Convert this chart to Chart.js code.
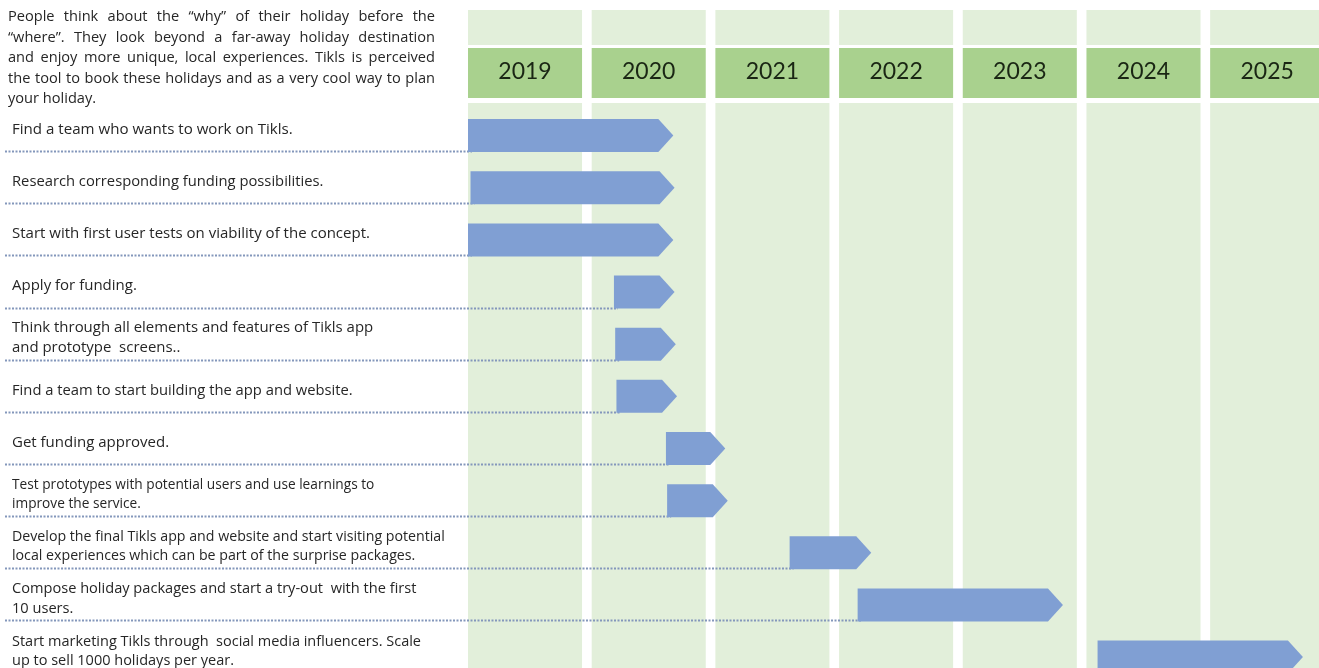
<!doctype html>
<html lang="en">
<head>
<meta charset="utf-8">
<title>Tikls roadmap</title>
<style>
  html, body { margin: 0; padding: 0; overflow: hidden; background: #fff; }
  #wrap { position: relative; width: 1319px; height: 700px; }
  #intro { position: absolute; left: 8px; top: 5px; width: 427px; font: 14.6px "Open Sans", sans-serif; line-height: 20.5px; color: #262626; }
  #intro .j { text-align: justify; text-align-last: justify; white-space: nowrap; }
</style>
</head>
<body>
<div id="wrap">
  <canvas id="chart"></canvas>
  <div id="intro">
    <div class="j">People think about the “why” of their holiday before the</div>
    <div class="j">“where”. They look beyond a far-away holiday destination</div>
    <div class="j">and enjoy more unique, local experiences. Tikls is perceived</div>
    <div class="j">the tool to book these holidays and as a very cool way to plan</div>
    <div>your holiday.</div>
  </div>
</div>

<script src="https://cdn.jsdelivr.net/npm/chart.js"></script>
<script>
  const years = ['2019', '2020', '2021', '2022', '2023', '2024', '2025']

  const tasks = [
    'Find a team who wants to work on Tikls.',
    'Research corresponding funding possibilities.',
    'Start with first user tests on viability of the concept.',
    'Apply for funding.',
    ['Think through all elements and features of Tikls app', 'and prototype  screens..'],
    'Find a team to start building the app and website.',
    'Get funding approved.',
    ['Test prototypes with potential users and use learnings to', 'improve the service.'],
    ['Develop the final Tikls app and website and start visiting potential', 'local experiences which can be part of the surprise packages.'],
    ['Compose holiday packages and start a try-out  with the first', '10 users.'],
    ['Start marketing Tikls through  social media influencers. Scale', 'up to sell 1000 holidays per year.'],
  ]

  const starts = [2019.0, 2019.02, 2019.0, 2020.18, 2020.19, 2020.2, 2020.6, 2020.61, 2021.6, 2022.15, 2024.09]
  const ends = [2020.66, 2020.67, 2020.66, 2020.67, 2020.68, 2020.69, 2021.08, 2021.1, 2022.26, 2023.81, 2025.75]

  const barColor = '#809fd3'
  const tip = 15
  // the labels in the source are not all set in the same size
  const labelSize = [15.1, 14.75, 15.0, 15.0, 14.95, 14.75, 15.0, 13.7, 14.2, 14.6, 14.5]

  // columns, dotted row lines and arrow-shaped bars
  const roadmap = {
    id: 'roadmap',
    beforeDraw(chart) {
      const { ctx, scales: { x } } = chart
      ctx.save()
      years.forEach((yr) => {
        const left = x.getPixelForValue(+yr)
        const w = (x.getPixelForValue(+yr + 1) - left) * 0.922
        ctx.fillStyle = '#e2efda'
        ctx.fillRect(left, 10, w, 35)
        ctx.fillRect(left, 103, w, chart.height - 103)
        ctx.fillStyle = '#a9d18e'
        ctx.fillRect(left, 48, w, 50)
      })
      ctx.restore()
    },
    beforeDatasetsDraw(chart) {
      const ctx = chart.ctx
      ctx.save()
      ctx.strokeStyle = '#8497bb'
      ctx.lineWidth = 2
      ctx.setLineDash([2, 1.5])
      chart.getDatasetMeta(0).data.forEach((el) => {
        const { y, base, height } = el.getProps(['y', 'base', 'height'], true)
        const ly = Math.round(y + height / 2) - 0.5
        ctx.beginPath()
        ctx.moveTo(5, ly)
        ctx.lineTo(base + 4, ly)
        ctx.stroke()
      })
      ctx.restore()
    },
    afterDatasetsDraw(chart) {
      const ctx = chart.ctx
      ctx.save()
      ctx.fillStyle = barColor
      chart.getDatasetMeta(0).data.forEach((el) => {
        const { x, y, base, height } = el.getProps(['x', 'y', 'base', 'height'], true)
        const h = height / 2
        ctx.beginPath()
        ctx.moveTo(base, y - h)
        ctx.lineTo(x - tip, y - h)
        ctx.lineTo(x, y)
        ctx.lineTo(x - tip, y + h)
        ctx.lineTo(base, y + h)
        ctx.closePath()
        ctx.fill()
      })
      ctx.restore()
    },
  }

  new Chart(document.getElementById('chart'), {
    type: 'bar',
    data: {
      labels: tasks,
      datasets: [{
        data: starts.map((s, i) => [s, ends[i]]),
        backgroundColor: 'rgba(0,0,0,0)',
        barThickness: 33,
      }],
    },
    options: {
      indexAxis: 'y',
      responsive: true,
      maintainAspectRatio: false,
      animation: false,
      layout: { padding: { left: 12, right: 0, top: 0, bottom: 16.85 } },
      plugins: { legend: { display: false }, tooltip: { enabled: false } },
      scales: {
        x: {
          type: 'linear',
          position: 'top',
          min: 2019,
          max: 2025.88,
          bounds: 'data',
          grid: { display: false, drawTicks: false },
          border: { display: false },
          afterBuildTicks: (scale) => {
            scale.ticks = years.map((yr) => ({ value: +yr + 0.461 }))
          },
          afterFit: (scale) => { scale.height = 109.5 },
          ticks: {
            autoSkip: false,
            maxRotation: 0,
            padding: 24.5,
            color: '#1a2614',
            font: { family: 'Lato', size: 23 },
            callback: (v, i) => years[i],
          },
        },
        y: {
          grid: { display: false },
          border: { display: false },
          afterFit: (scale) => { scale.width = 456 },
          ticks: {
            crossAlign: 'far',
            labelOffset: -6,
            color: '#262626',
            font: (c) => ({ family: 'Open Sans', size: labelSize[c.index] || 14.5, lineHeight: 1.33 }),
          },
        },
      },
    },
    plugins: [roadmap],
  })
</script>
</body>
</html>
